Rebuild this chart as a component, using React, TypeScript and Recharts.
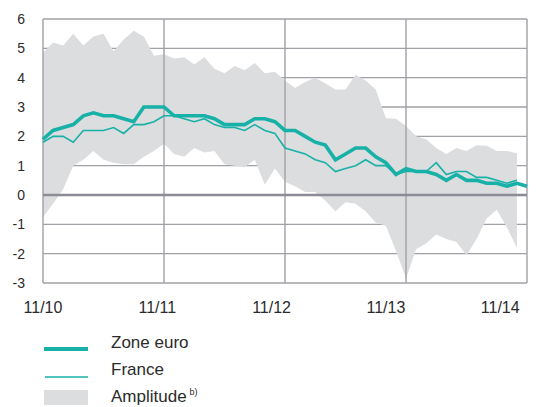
import React from 'react';
import { ComposedChart, Line, Area, XAxis, YAxis, CartesianGrid, ReferenceLine, Legend } from 'recharts';

const tickLabels = ['11/10', '11/11', '11/12', '11/13', '11/14'];
const tickIndex = [0, 12, 24, 36, 48];
const yTicks = [-3, -2, -1, 0, 1, 2, 3, 4, 5, 6];

// monthly, 11/10 .. 11/14
const zoneEuro = [1.9, 2.2, 2.3, 2.4, 2.7, 2.8, 2.7, 2.7, 2.6, 2.5,
  3.0, 3.0, 3.0, 2.7, 2.7, 2.7, 2.7, 2.6, 2.4, 2.4,
  2.4, 2.6, 2.6, 2.5, 2.2, 2.2, 2.0, 1.8, 1.7, 1.2,
  1.4, 1.6, 1.6, 1.3, 1.1, 0.7, 0.9, 0.8, 0.8, 0.7,
  0.5, 0.7, 0.5, 0.5, 0.4, 0.4, 0.3, 0.4, 0.3];

const france = [1.8, 2.0, 2.0, 1.8, 2.2, 2.2, 2.2, 2.3, 2.1, 2.4,
  2.4, 2.5, 2.7, 2.7, 2.6, 2.5, 2.6, 2.4, 2.3, 2.3,
  2.2, 2.4, 2.2, 2.1, 1.6, 1.5, 1.4, 1.2, 1.1, 0.8,
  0.9, 1.0, 1.2, 1.0, 1.0, 0.7, 0.8, 0.8, 0.8, 1.1,
  0.7, 0.8, 0.8, 0.6, 0.6, 0.5, 0.4, 0.5];

const amplitudeHigh = [4.85, 5.2, 5.1, 5.5, 5.1, 5.4, 5.5, 4.9, 5.3, 5.6,
  5.4, 4.75, 4.8, 4.65, 4.7, 4.45, 4.7, 4.3, 4.15, 4.4,
  4.25, 4.5, 4.15, 4.2, 3.9, 3.65, 3.85, 4.0, 3.8, 3.6,
  3.6, 4.1, 3.9, 3.6, 2.62, 2.6, 2.35, 2.0, 1.9, 1.6,
  1.4, 1.6, 1.5, 1.7, 1.68, 1.5, 1.5, 1.42];

const amplitudeLow = [-0.75, -0.3, 0.2, 1.0, 1.2, 1.5, 1.2, 1.1, 1.05, 1.05,
  1.3, 1.5, 1.75, 1.4, 1.3, 1.6, 1.45, 1.5, 1.05, 1.0,
  0.95, 1.2, 0.35, 0.9, 0.45, 0.3, 0.1, 0.1, -0.2, -0.55,
  -0.25, -0.3, -0.55, -0.95, -1.05, -1.9, -2.85, -1.85, -1.65, -1.35,
  -1.5, -1.6, -2.05, -1.5, -0.8, -0.5, -1.1, -1.8];

const data = zoneEuro.map((v, i) => ({
  m: i,
  euro: v,
  france: i < france.length ? france[i] : null,
  range: i < amplitudeHigh.length ? [amplitudeLow[i], amplitudeHigh[i]] : null,
}));

const TEAL = '#17b1a8';
const AREA = '#dcdddf';
const GRID = '#a0a0a6';
const TEXT = '#2b2b2b';
const FONT = '"Liberation Sans", Arial, sans-serif';

const XTick = (props: any) => {
  const { x, y, index, payload } = props;
  const pos = tickIndex.indexOf(payload.value);
  const label = tickLabels[pos >= 0 ? pos : index];
  return (
    <text x={x - (pos >= 0 ? pos : index) * 6.7} y={y + 30} textAnchor="middle" fill={TEXT}
      fontSize={16} fontFamily={FONT}>{label}</text>
  );
};

const renderLegend = () => (
  <div style={{ width: 553, height: 85 }}>
    <svg width={553} height={85} style={{ display: 'block' }}>
      <line x1={44} x2={88} y1={27} y2={27} stroke={TEAL} strokeWidth={4} />
      <text x={111} y={26} fontSize={17} fill={TEXT} fontFamily={FONT}>Zone euro</text>
      <line x1={45} x2={88} y1={55} y2={55} stroke={TEAL} strokeWidth={1.7} />
      <text x={111} y={53} fontSize={17} fill={TEXT} fontFamily={FONT}>France</text>
      <rect x={44} y={68} width={44} height={15} fill={AREA} />
      <text x={111} y={80} fontSize={17} fill={TEXT} fontFamily={FONT}>
        Amplitude<tspan fontSize={9} dx={3} dy={-7}>b)</tspan>
      </text>
    </svg>
  </div>
);

export default function App() {
  return (
    <div style={{ position: 'absolute', left: 0, top: 0, width: 553, height: 407, background: '#fff' }}>
      <ComposedChart width={553} height={407} data={data}
        margin={{ top: 19, right: 26, bottom: 0, left: 0 }}>
        <CartesianGrid vertical={false} stroke={GRID} strokeWidth={1.4} horizontalValues={yTicks} />
        <XAxis dataKey="m" type="number" domain={[0, 48]} ticks={tickIndex} interval={0}
          axisLine={false} tickLine={false} tickSize={0} tickMargin={0} height={39}
          tick={<XTick />} />
        <YAxis type="number" domain={[-3, 6]} ticks={yTicks} interval={0} width={43}
          axisLine={false} tickLine={false} tickSize={0} tickMargin={18}
          tick={{ fill: TEXT, fontSize: 14, fontFamily: FONT }} />
        <Legend verticalAlign="bottom" align="left" content={renderLegend} />
        <Area dataKey="range" type="linear" stroke="none" fill={AREA} fillOpacity={1}
          isAnimationActive={false} activeDot={false} />
        {tickIndex.map((t) => (
          <ReferenceLine key={t} x={t} stroke={GRID} strokeWidth={1.4} zIndex={150} />
        ))}
        <ReferenceLine y={0} stroke="#8c8c97" strokeWidth={2.6} zIndex={150} />
        <Line dataKey="france" type="linear" stroke={TEAL} strokeWidth={1.6} dot={false}
          isAnimationActive={false} activeDot={false} />
        <Line dataKey="euro" type="linear" stroke={TEAL} strokeWidth={3.6} dot={false}
          isAnimationActive={false} activeDot={false} />
      </ComposedChart>
    </div>
  );
}
